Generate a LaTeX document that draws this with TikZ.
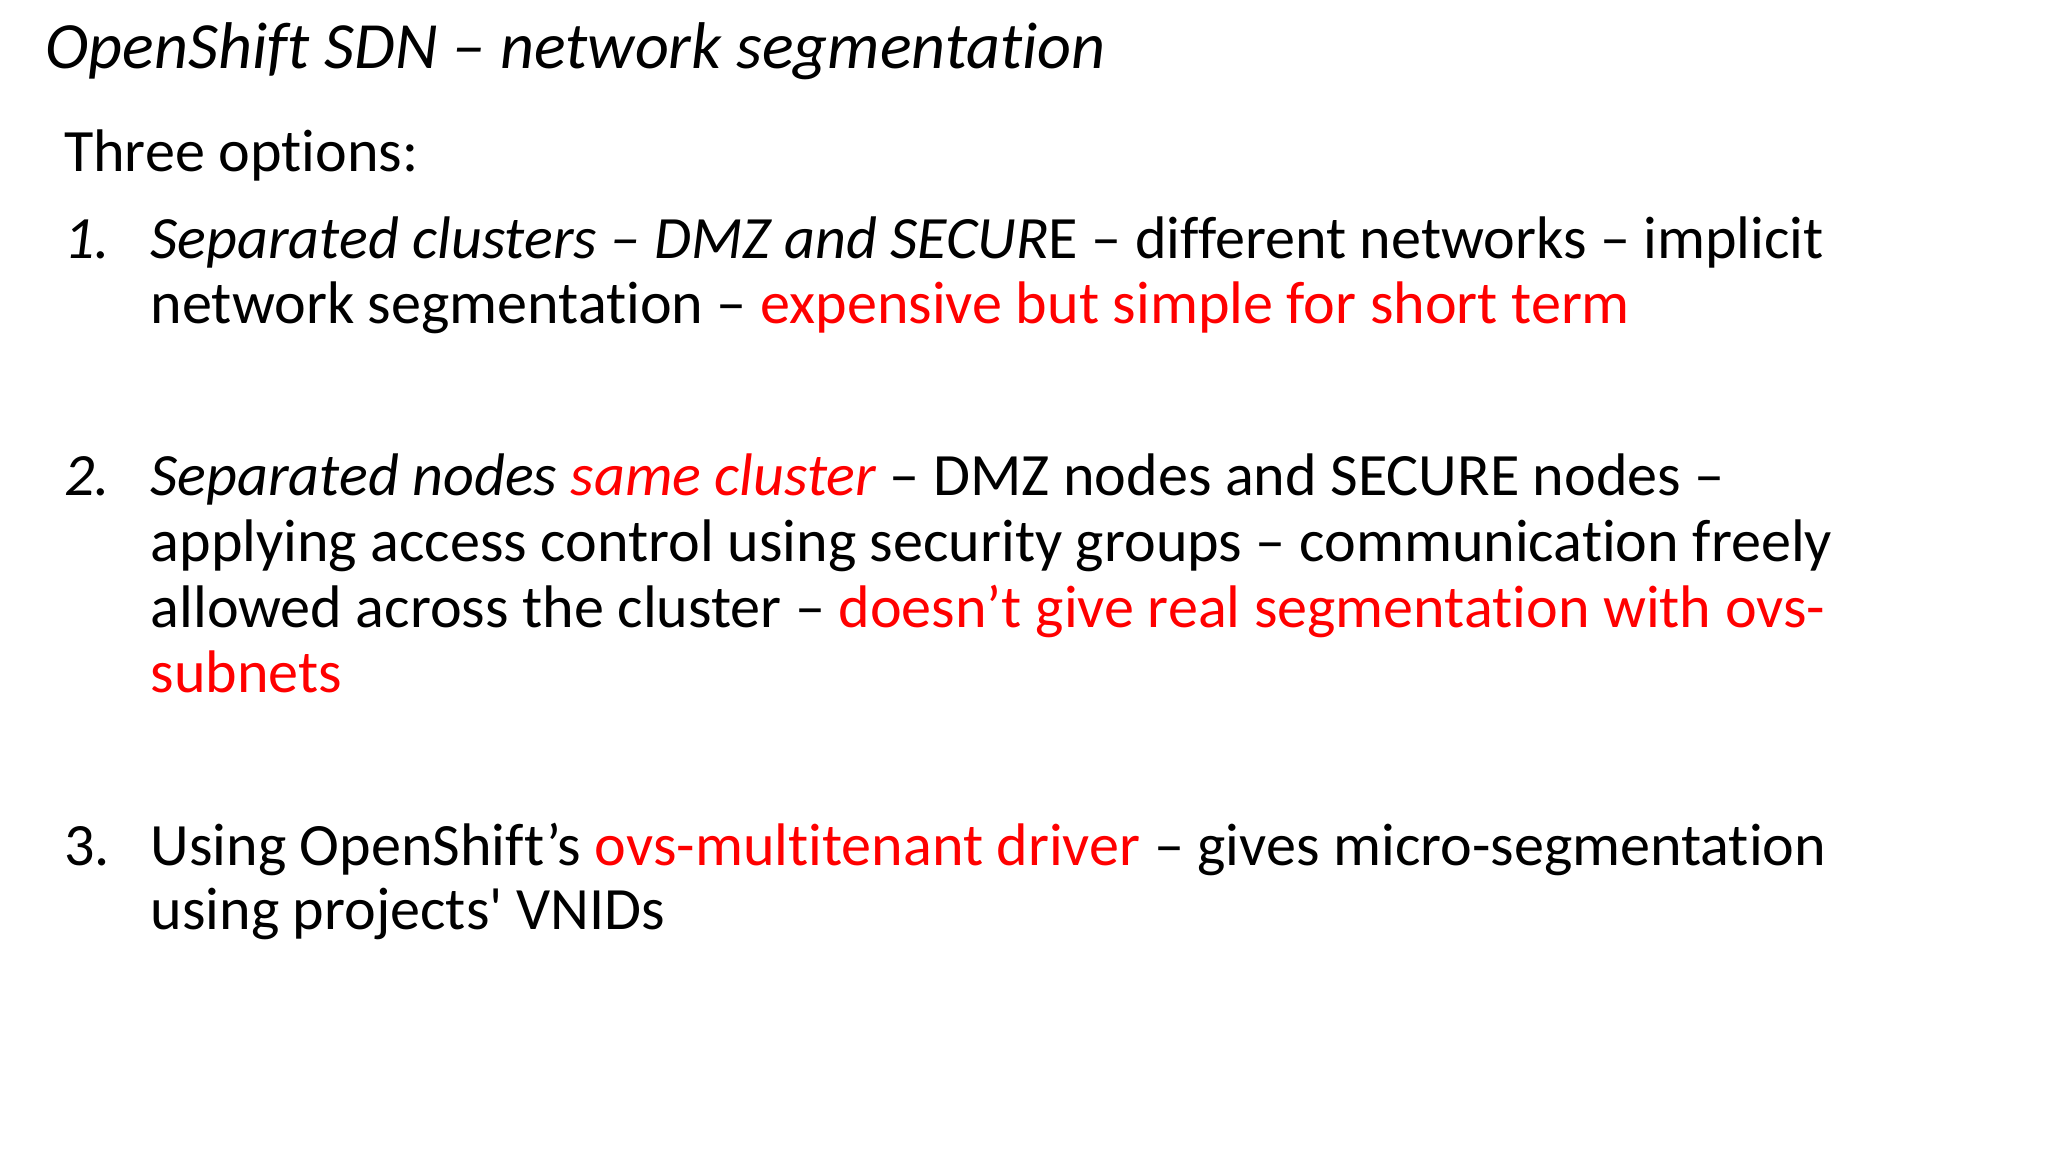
\documentclass[tikz,border=0pt]{standalone}
\usepackage{fontspec}
\setmainfont[Ligatures={NoCommon}]{Carlito}
\usetikzlibrary{positioning}
\definecolor{slidered}{RGB}{255,0,0}
\newcommand{\hl}[1]{\textcolor{slidered}{#1}}
\tikzset{
  txt/.style={anchor=base west, inner sep=0pt, font=\fontsize{17.1}{20}\selectfont},
  ttl/.style={anchor=base west, inner sep=0pt, font=\fontsize{18.8}{22}\selectfont\itshape}
}
\begin{document}
\begin{tikzpicture}
\useasboundingbox (0,0) rectangle (20.48,-11.52);
% title
\node[ttl] (title) at (0.45,-0.687) {OpenShift SDN -- network segmentation};
\node[txt] (intro) at (0.634,-1.717) {Three options:};
% option 1
\node[txt] (n1) at (0.634,-2.589) {\itshape 1.};
\node[txt] (o1a) at (1.500,-2.589) {\textit{Separated clusters -- DMZ and SECUR}E -- different networks -- implicit};
\node[txt] (o1b) at (1.500,-3.236) {network segmentation -- \hl{expensive but simple for short term}};
% option 2
\node[txt] (n2) at (0.634,-4.954) {\itshape 2.};
\node[txt] (o2a) at (1.500,-4.954) {\textit{Separated nodes \hl{same cluster}} -- DMZ nodes and SECURE nodes --};
\node[txt] (o2b) at (1.500,-5.614) {applying access control using security groups -- communication freely};
\node[txt] (o2c) at (1.500,-6.275) {allowed across the cluster -- \hl{doesn’t give real segmentation with ovs-}};
\node[txt] (o2d) at (1.500,-6.922) {\hl{subnets}};
% option 3
\node[txt] (n3) at (0.634,-8.653) {3.};
\node[txt] (o3a) at (1.500,-8.653) {Using OpenShift’s \hl{ovs-multitenant driver} -- gives micro-segmentation};
\node[txt] (o3b) at (1.500,-9.300) {using projects\textquotesingle\ VNIDs};
\end{tikzpicture}
\end{document}
